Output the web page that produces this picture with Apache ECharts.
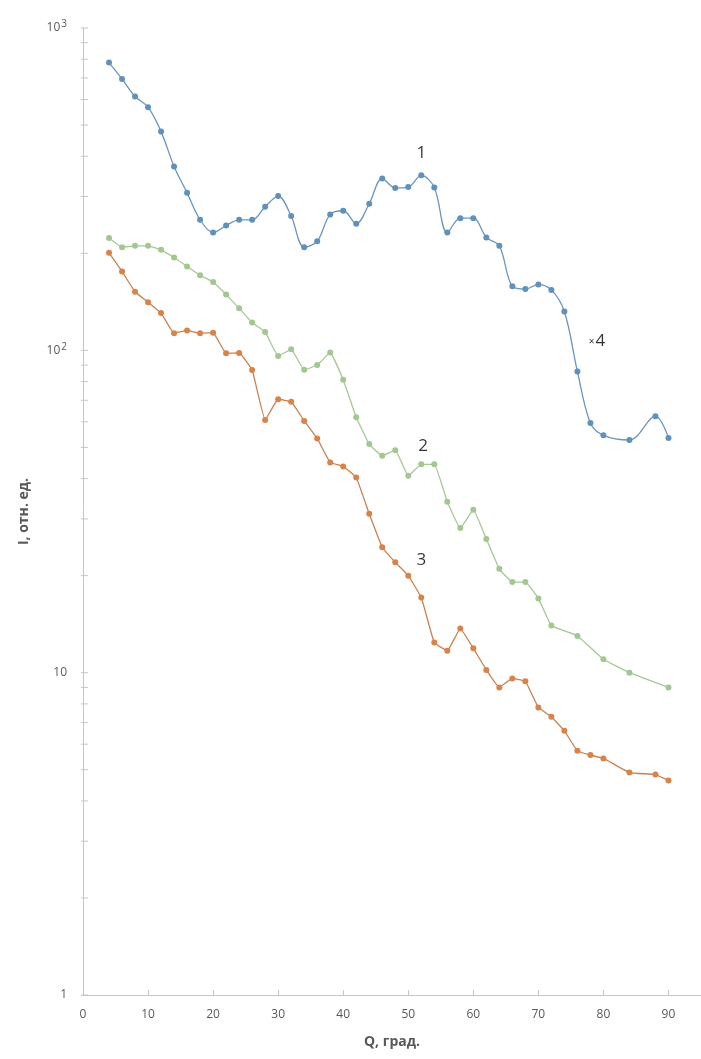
<!DOCTYPE html>
<html>
<head>
<meta charset="utf-8">
<script src="https://cdn.jsdelivr.net/npm/echarts@6/dist/echarts.min.js"></script>
<style>
html,body{margin:0;padding:0;background:#fff;}
#chart{width:701px;height:1059px;}
</style>
</head>
<body>
<div id="chart"></div>
<script>
// ---- data ----
const q1 = [4,6,8,10,12,14,16,18,20,22,24,26,28,30,32,34,36,38,40,42,44,46,48,50,52,54,56,58,60,62,64,66,68,70,72,74,76,78,80,84,88,90];
const i1 = [781,695,613,568,477,372,308,254,232,244,254,254,279,301,261,209,218,264,271,247,285,341,319,321,349,320,232,257,257,224,211,158,155,160,154,132,86,59.5,54.5,52.7,62.5,53.5];

const q2 = [4,6,8,10,12,14,16,18,20,22,24,26,28,30,32,34,36,38,40,42,44,46,48,50,52,54,56,58,60,62,64,66,68,70,72,76,80,84,90];
const i2 = [223,209,211,211,205,194,182,171,163,149,135,122,114,96,100.7,87,90,98.4,81,62,51.2,47.1,49,40.8,44.3,44.3,33.9,28.1,32,26,21,19.1,19.1,17,14,13,11,10,9];

const q3 = [4,6,8,10,12,14,16,18,20,22,24,26,28,30,32,34,36,38,40,42,44,46,48,50,52,54,56,58,60,62,64,66,68,70,72,74,76,78,80,84,88,90];
const i3 = [200.7,175.7,152,141,130.5,113,115.3,113,113.4,97.9,98.1,86.9,60.8,70.5,69.2,60.4,53.3,44.9,43.6,40.3,31.1,24.5,22,20,17.1,12.4,11.7,13.7,11.9,10.2,9.0,9.6,9.4,7.8,7.3,6.6,5.72,5.55,5.42,4.9,4.83,4.63];

// curve labels: [Q, I, text]
const curveLabelQ = [52, 52.3, 52, 79];
const curveLabelI = [408, 50.4, 22.4, 107];
const curveLabelText = ['1', '2', '3', '{s|×}4'];

const xTickLabels = [0,10,20,30,40,50,60,70,80,90];
const yTicks = [1,2,3,4,5,6,7,8,9,10,20,30,40,50,60,70,80,90,100,200,300,400,500,600,700,800,900,1000];

// ---- chart ----
const pairs = (xs, ys) => xs.map((x, k) => [x, ys[k]]);
const chart = echarts.init(document.getElementById('chart'));
const gray = '#595959';
const axisGray = '#c6c6c6';
const fontFam = '"Open Sans", "Noto Sans", sans-serif';

chart.setOption({
  backgroundColor: '#ffffff',
  animation: false,
  grid: { left: 83, right: 0, top: 28, bottom: 64, containLabel: false },
  xAxis: {
    type: 'value', min: 0, max: 95, interval: 10,
    name: 'Q, град.', nameLocation: 'middle', nameGap: 40,
    nameTextStyle: { color: gray, fontSize: 14, fontWeight: 'bold', fontFamily: fontFam },
    axisLine: { show: true, lineStyle: { color: axisGray, width: 1 } },
    axisTick: { show: true, inside: true, length: 5, lineStyle: { color: axisGray }, customValues: xTickLabels },
    axisLabel: { color: gray, fontSize: 12, fontFamily: fontFam, margin: 14, customValues: xTickLabels },
    splitLine: { show: false }
  },
  yAxis: {
    type: 'log', logBase: 10, min: 1, max: 1000,
    name: 'I, отн. ед.', nameLocation: 'middle', nameGap: 52,
    nameTextStyle: { color: gray, fontSize: 14, fontWeight: 'bold', fontFamily: fontFam },
    axisLine: { show: true, lineStyle: { color: axisGray, width: 1 } },
    axisTick: { show: false },
    axisLabel: {
      color: gray, fontSize: 12, fontFamily: fontFam, margin: 16,
      formatter: v => {
        const e = Math.round(Math.log10(v));
        if (e === 0) return '1';
        if (e === 1) return '10';
        return '10{sup|' + e + '}';
      },
      rich: { sup: { fontSize: 10, color: gray, fontFamily: fontFam, verticalAlign: 'top', padding: [0, 0, 7, 1] } }
    },
    splitLine: { show: false }
  },
  series: [
    {
      name: 'ticks', type: 'custom', silent: true, clip: false, z: 1,
      data: yTicks.map(v => [0, v]),
      renderItem: (params, api) => {
        const p = api.coord([0, api.value(1)]);
        return { type: 'line', shape: { x1: p[0] - 2, y1: p[1], x2: p[0] + 5, y2: p[1] },
                 style: { stroke: axisGray, lineWidth: 1 } };
      }
    },
    {
      name: '1', type: 'line', data: pairs(q1, i1), smooth: 0.35,
      symbol: 'circle', symbolSize: 6,
      lineStyle: { color: '#6b95bd', width: 1.3 },
      itemStyle: { color: '#6090bb' }
    },
    {
      name: '2', type: 'line', data: pairs(q2, i2), smooth: 0.1,
      symbol: 'circle', symbolSize: 6,
      lineStyle: { color: '#a6c796', width: 1.3 },
      itemStyle: { color: '#a2c791' }
    },
    {
      name: '3', type: 'line', data: pairs(q3, i3), smooth: 0.1,
      symbol: 'circle', symbolSize: 6,
      lineStyle: { color: '#c98352', width: 1.3 },
      itemStyle: { color: '#d9824a' }
    },
    {
      name: 'labels', type: 'scatter', silent: true, symbolSize: 0,
      data: curveLabelQ.map((q, k) => [q, curveLabelI[k], curveLabelText[k]]),
      label: {
        show: true, position: 'inside', color: '#000000', fontSize: 17, fontFamily: fontFam,
        formatter: p => p.value[2],
        rich: { s: { fontSize: 10, color: '#000000', fontFamily: fontFam, padding: [3, 1, 0, 0] } }
      }
    }
  ]
});
</script>
</body>
</html>
